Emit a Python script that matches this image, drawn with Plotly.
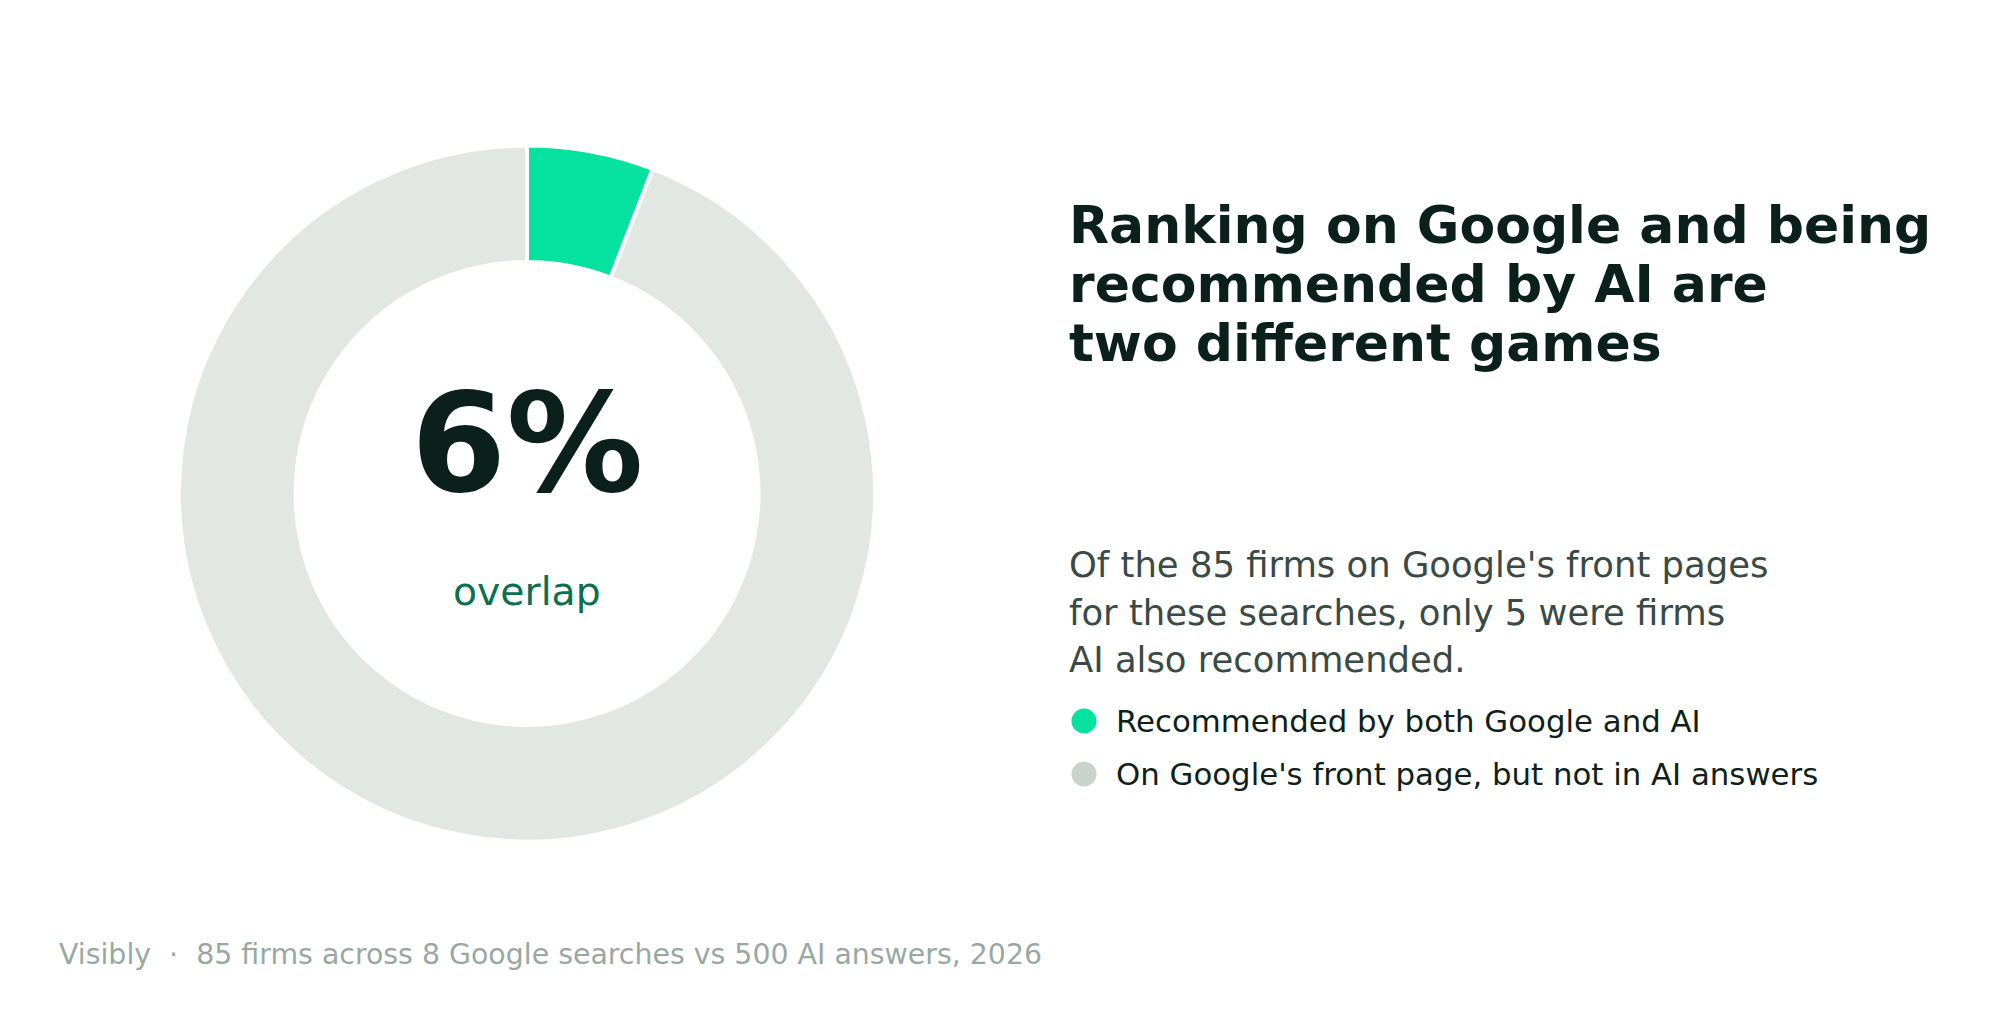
import plotly.graph_objects as go

# ---- data ----
categories = ["Recommended by both Google and AI", "On Google's front page, but not in AI answers"]
firm_counts = [5, 80]
slice_colors = ["#05E2A0", "#E3E7E4"]
legend_marker_colors = ["#05E2A0", "#C8D3CE"]
big_number = "6%"
big_label = "overlap"
title_lines = ["Ranking on Google and being", "recommended by AI are", "two different games"]
subtitle_lines = ["Of the 85 firms on Google's front pages", "for these searches, only 5 were firms", "AI also recommended."]
footer = "Visibly\u00a0\u00a0·\u00a0\u00a085 firms across 8 Google searches vs 500 AI answers, 2026"

W, H = 1992, 1028
OFF = 8  # page body margin
FONT = "DejaVu Sans"


def px(x):
    return (x - OFF) / W


def py(y):
    return 1 - (y - OFF) / H


cx, cy, r = 527, 493.5, 348

fig = go.Figure()
fig.add_trace(go.Pie(
    labels=categories,
    values=firm_counts,
    marker=dict(colors=slice_colors, line=dict(color="white", width=4)),
    hole=0.665,
    sort=False,
    direction="clockwise",
    rotation=0,
    textinfo="none",
    hoverinfo="label+value",
    showlegend=False,
    domain=dict(x=[px(cx - r), px(cx + r)], y=[py(cy + r), py(cy - r)]),
))

ann = []
# centre text
ann.append(dict(text=f"<b>{big_number}</b>", x=px(cx), y=py(443.5), xanchor="center", yanchor="middle",
                font=dict(family=FONT, size=137, color="#0B201A")))
ann.append(dict(text=big_label, x=px(cx), y=py(591.5), xanchor="center", yanchor="middle",
                font=dict(family=FONT, size=39.3, color="#0A7050")))

# title
for i, line in enumerate(title_lines):
    ann.append(dict(text=f"<b>{line}</b>", x=px(1067), y=py(224.5 + 59.5 * i), xanchor="left", yanchor="middle",
                    font=dict(family=FONT, size=52, color="#0B201A")))
# subtitle
for i, line in enumerate(subtitle_lines):
    ann.append(dict(text=line, x=px(1067), y=py(564.5 + 47.6 * i), xanchor="left", yanchor="middle",
                    font=dict(family=FONT, size=35.4, color="#3A4A45")))

# legend
shapes = []
leg_y = [721, 774]
for i, (lab, col) in enumerate(zip(categories, legend_marker_colors)):
    yy = leg_y[i]
    shapes.append(dict(type="circle", xref="paper", yref="paper",
                       x0=px(1084 - 12.5), x1=px(1084 + 12.5), y0=py(yy + 12.5), y1=py(yy - 12.5),
                       fillcolor=col, line=dict(width=0)))
    ann.append(dict(text=lab, x=px(1114), y=py(yy), xanchor="left", yanchor="middle",
                    font=dict(family=FONT, size=30.8, color="#0F1F1A")))

# footer
ann.append(dict(text=footer, x=px(57), y=py(954), xanchor="left", yanchor="middle",
                font=dict(family=FONT, size=28.4, color="#9AA8A3")))

for a in ann:
    a.update(xref="paper", yref="paper", showarrow=False)

fig.update_layout(
    width=W, height=H,
    margin=dict(l=0, r=0, t=0, b=0),
    paper_bgcolor="white", plot_bgcolor="white",
    annotations=ann, shapes=shapes,
    showlegend=False,
)

fig.write_html("out.html", config={"displayModeBar": False})
